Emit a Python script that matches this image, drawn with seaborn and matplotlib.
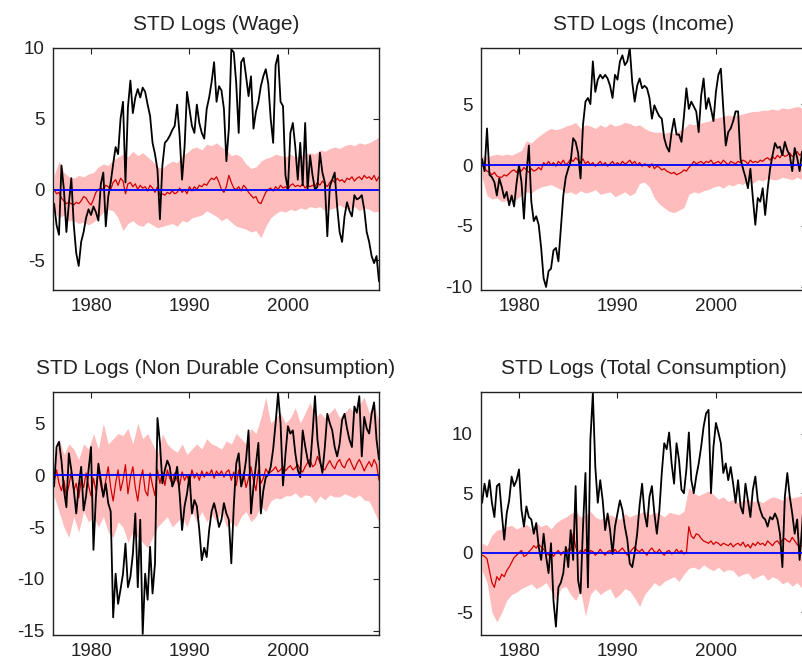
import numpy as np
import matplotlib
matplotlib.use("Agg")
import matplotlib.pyplot as plt
import seaborn as sns

# quarterly dates 1976Q2 .. 2009Q2, band read every half year
quarters = 1976.25 + 0.25 * np.arange(133)
halves = 1976.25 + 0.5 * np.arange(67)

# --- STD Logs (Wage) ---
wage_data = [
    -1.0, -2.5, -3.2, 1.7,  0.0, -3.0, -1.0, 0.8,  -2.5, -4.5, -5.4, -3.7,
    -3.0, -2.0, -1.4, -1.8,  -1.2, -1.6, -2.2, 0.4,  1.2, -2.6, -0.5, 0.5,
    1.8, 3.0, 2.5, 5.0,  6.2, 0.5, 5.8, 7.7,  5.4, 6.5, 7.1, 6.5,
    7.2, 6.9, 6.0, 5.2,  3.3, 2.5, 1.4, -2.1,  1.7, 3.3, 3.5, 3.8,
    4.2, 4.5, 6.0, 3.8,  0.7, 3.0, 6.9, 5.7,  4.5, 4.0, 6.0, 4.7,
    4.0, 3.6, 5.7, 6.5,  7.6, 9.0, 6.2, 7.3,  7.0, 5.7, 2.0, 4.3,
    9.9, 9.7, 7.5, 4.0,  9.0, 9.3, 8.0, 6.6,  8.0, 4.3, 5.5, 6.2,
    7.3, 8.0, 8.5, 7.5,  5.0, 3.3, 8.8, 9.5,  6.2, 5.9, 1.0, 0.0,
    4.0, 4.7, 3.0, 0.7,  3.3, 0.3, 4.7, 0.0,  2.4, 1.0, 0.0, 0.2,
    2.6, 1.2, 0.5, -3.3,  0.2, 0.7, 1.2, -1.2,  -3.0, -3.7, -1.9, -0.9,
    -1.5, -1.9, -0.4, -0.7,  -0.6, -0.4, -1.4, -3.0,  -3.7, -4.7, -5.2, -4.7,
    -6.5]
wage_median = [
    0.0, -0.3, -0.2, -0.6,  -0.8, -1.0, -0.9, -1.0,  -1.1, -0.9, -1.0, -0.8,
    -0.5, -0.6, -0.9, -1.1,  -0.7, -0.2, 0.0, 0.1,  0.0, 0.3, 0.2, 0.0,
    0.5, 0.7, 0.3, 0.8,  0.6, -0.3, 0.4, 0.5,  0.2, 0.4, 0.0, 0.3,
    0.1, 0.2, -0.1, 0.3,  0.1, -0.2, 0.2, -0.4,  -0.3, -0.4, -0.2, -0.3,
    -0.1, -0.3, -0.2, 0.1,  -0.2, 0.0, -0.3, 0.2,  -0.1, 0.2, 0.0, 0.3,
    0.2, 0.4, 0.3, 0.6,  0.8, 0.7, 0.9, 0.5,  0.0, -0.2, 0.2, 1.0,
    0.5, 0.1, 0.0, 0.2,  -0.1, 0.3, 0.1, -0.2,  -0.4, -0.6, -0.5, -0.9,
    -1.0, -0.6, -0.2, 0.0,  0.1, -0.1, 0.2, 0.0,  0.3, 0.1, 0.2, 0.0,
    0.3, 0.4, 0.2, 0.3,  0.2, 0.4, 0.1, 0.3,  0.2, 0.3, 0.2, 0.5,
    0.3, 0.6, 0.4, 0.2,  0.5, 0.7, 0.5, 0.8,  0.6, 0.7, 0.5, 0.8,
    0.7, 0.9, 0.6, 0.8,  0.9, 0.7, 1.0, 0.8,  0.9, 0.7, 1.0, 0.6,
    0.9]
wage_upper = [
    1.0, 2.0, 1.2, 0.9, 0.8, 1.0, 0.9, 1.1, 1.2, 1.6, 1.8, 1.7, 2.1, 2.3,
    2.5, 2.3, 2.7, 2.4, 2.6, 2.3, 2.0, 1.6, 1.5, 1.8, 2.0, 1.9, 2.4, 2.6,
    2.9, 3.0, 2.8, 3.2, 3.1, 3.3, 3.0, 2.8, 2.4, 2.5, 2.3, 1.8, 1.5, 1.6,
    2.0, 2.2, 2.3, 2.5, 2.4, 2.3, 2.5, 2.3, 2.4, 2.5, 2.6, 2.5, 2.8, 2.7,
    2.9, 3.0, 2.9, 3.1, 3.2, 3.1, 3.3, 3.2, 3.3, 3.5, 3.7]
wage_lower = [
    -1.5, -2.0, -1.8, -2.2, -2.2, -2.4, -2.3, -2.5, -2.3, -2.0, -1.6, -1.4,
    -1.5, -2.0, -2.9, -2.4, -2.2, -2.5, -2.6, -2.3, -2.5, -2.7, -2.6, -2.5,
    -2.4, -2.6, -2.2, -2.3, -2.0, -1.9, -1.8, -1.5, -1.7, -1.9, -2.2, -2.0,
    -2.3, -2.6, -2.7, -2.8, -3.0, -2.9, -3.4, -2.6, -2.0, -1.7, -1.5, -1.6,
    -1.4, -1.5, -1.3, -1.4, -1.2, -1.3, -1.2, -1.5, -1.4, -1.3, -1.1, -1.3,
    -1.4, -1.2, -1.5, -1.3, -1.4, -1.6, -1.5]

# --- STD Logs (Income) ---
income_data = [
    0.5, -0.5, 3.0, -0.8,  -1.0, -1.4, -2.5, -1.1,  -1.8, -2.7, -2.2, -3.3,
    -2.5, -3.4, -1.5, 0.0,  -1.4, -4.4, -0.8, 1.6,  -3.0, -4.6, -4.2, -4.9,
    -6.8, -9.3, -10.0, -8.7,  -8.5, -7.0, -6.8, -7.9,  -5.2, -2.5, -1.0, -0.3,
    0.3, 2.2, 1.9, 1.0,  -1.1, 3.3, 5.2, 5.5,  5.0, 8.5, 6.0, 7.0,
    7.4, 7.1, 7.4, 7.1,  6.5, 5.5, 7.4, 7.0,  8.5, 9.0, 8.2, 8.5,
    9.6, 6.8, 5.2, 6.5,  7.1, 6.3, 6.5, 6.3,  5.5, 3.8, 4.9, 4.4,
    4.0, 3.8, 2.2, 1.5,  1.1, 2.7, 3.8, 2.5,  2.5, 1.9, 4.0, 6.3,
    4.6, 5.2, 4.8, 4.4,  2.7, 5.7, 7.1, 4.6,  5.5, 4.6, 3.6, 6.0,
    7.4, 7.9, 4.6, 1.6,  2.7, 3.0, 3.6, 4.4,  4.4, 0.5, -0.3, -1.0,
    -1.9, -0.3, -2.7, -4.9,  -2.7, -3.0, -1.9, -4.1,  -2.0, -0.3, 0.8, 1.8,
    1.4, 1.5, 0.8, 1.9,  1.2, 0.8, -0.5, 1.4,  0.6, -0.5, 1.1, 0.5,
    0.8]
income_median = [
    0.0, -0.3, -0.5, -0.6,  -0.8, -0.6, -0.9, -1.0,  -1.0, -0.8, -0.9, -0.7,
    -0.5, -0.4, -0.6, -0.3,  -0.5, -0.2, -0.4, -0.6,  -0.3, -0.5, -0.4, -0.2,
    -0.4, 0.2, 0.0, 0.3,  0.0, 0.2, -0.1, 0.3,  0.1, 0.4, 0.0, 0.2,
    0.5, 0.3, 0.6, 0.4,  0.2, 0.5, 0.1, 0.3,  0.0, 0.2, -0.1, 0.1,
    0.3, 0.0, 0.2, -0.1,  0.1, 0.3, 0.0, 0.2,  0.0, 0.3, 0.1, 0.2,
    0.4, 0.1, 0.3, 0.0,  0.2, -0.1, 0.1, 0.0,  -0.2, 0.1, -0.3, -0.1,
    -0.2, -0.4, -0.3, -0.5,  -0.6, -0.7, -0.6, -0.8,  -0.7, -0.6, -0.4, -0.5,
    -0.2, 0.0, 0.3, 0.1,  0.2, 0.3, 0.1, 0.3,  0.2, 0.4, 0.1, 0.2,
    0.3, 0.1, 0.4, 0.2,  0.0, 0.3, 0.2, 0.1,  0.3, 0.2, 0.4, 0.3,
    0.1, 0.4, 0.2, 0.3,  0.2, 0.4, 0.3, 0.5,  0.6, 0.4, 0.7, 0.5,
    0.8, 0.6, 0.9, 0.7,  0.8, 1.0, 0.7, 0.9,  1.1, 0.8, 1.0, 0.9,
    1.0]
income_upper = [
    0.8, 0.6, 0.8, 0.9, 0.8, 0.9, 0.8, 1.0, 1.2, 2.0, 1.8, 2.2, 2.5, 2.8,
    3.0, 2.9, 3.0, 3.2, 3.3, 3.5, 3.0, 3.3, 3.2, 3.0, 3.3, 3.1, 3.4, 3.2,
    3.3, 3.5, 3.4, 3.2, 3.3, 3.0, 2.8, 2.7, 2.7, 2.6, 2.7, 2.6, 2.8, 3.0,
    3.4, 3.3, 3.4, 3.5, 3.6, 3.8, 3.9, 4.0, 4.1, 4.0, 4.1, 4.2, 4.3, 4.4,
    4.4, 4.5, 4.5, 4.6, 4.5, 4.7, 4.6, 4.7, 4.8, 4.7, 4.8]
income_lower = [
    -1.0, -2.5, -2.8, -2.7, -3.0, -2.9, -3.0, -2.8, -2.5, -2.2, -2.3, -2.0,
    -1.8, -1.7, -1.6, -1.8, -2.0, -2.3, -2.2, -2.4, -2.1, -2.3, -2.2, -2.0,
    -2.4, -2.3, -2.2, -2.6, -2.4, -2.2, -2.5, -2.3, -1.5, -1.4, -1.8, -2.7,
    -3.2, -3.5, -3.8, -3.9, -3.7, -3.5, -2.4, -2.2, -2.3, -2.1, -2.0, -1.8,
    -1.7, -1.9, -1.6, -1.7, -1.5, -1.6, -1.3, -1.5, -1.2, -1.3, -1.1, -1.2,
    -1.2, -1.0, -1.1, -1.2, -1.0, -1.2, -1.1]

# --- STD Logs (Non Durable Consumption) ---
nondur_data = [
    -1.1, 2.7, 3.2, 1.4,  -1.4, -3.1, 2.1, 0.5,  -1.4, -3.7, -1.1, 0.8,
    -3.4, -2.0, 0.5, 2.7,  -7.2, -2.1, 1.1, -0.5,  -2.1, -0.8, -2.7, -3.5,
    -13.7, -9.5, -12.4, -11.0,  -9.5, -6.6, -10.8, -9.8,  -7.6, -3.7, -10.8, -4.3,
    -15.3, -9.5, -12.0, -6.9,  -11.4, -8.5, 5.5, 3.1,  -0.8, 0.5, 1.4, 0.8,
    -1.1, -0.5, 0.8, -1.8,  -5.3, -3.0, -1.8, 0.0,  -3.7, -2.4, -3.0, -5.3,
    -8.2, -7.0, -7.9, -5.3,  -3.5, -2.7, -3.7, -5.0,  -4.3, -2.7, -3.7, -4.3,
    -8.5, -3.0, 1.1, 2.1,  -1.1, -0.2, 1.5, 4.3,  -3.7, -1.1, 1.0, 3.1,
    -3.7, -1.5, -0.2, 0.0,  0.8, 2.5, 5.0, 7.9,  5.0, -1.0, 2.0, 4.7,
    4.0, 4.3, 2.1, 0.5,  -0.2, 4.3, 2.8, 1.5,  0.8, 4.0, 7.6, 3.4,
    1.5, 0.2, 2.7, 5.9,  5.0, 4.3, 2.7, 1.8,  3.0, 5.3, 5.9, 4.5,
    3.4, 2.7, 6.6, 6.0,  7.6, 1.8, 5.6, 4.5,  4.0, 5.9, 7.0, 3.4,
    1.5]
nondur_median = [
    -0.5, 0.5, -0.8, -1.5,  -0.5, -2.0, -1.0, 0.3,  -1.5, -0.8, -2.2, -0.5,
    -1.2, 0.2, -1.0, -2.0,  -0.3, -1.5, 0.5, -1.0,  -2.0, -0.5, 0.8, -1.2,
    -2.5, -0.8, 0.5, -1.5,  -0.5, 1.0, -1.8, -0.2,  0.8, -1.2, -2.5, -0.5,
    0.5, -1.5, -2.0, 0.2,  -1.0, -2.0, 0.5, -0.8,  0.3, -1.0, 0.5, -0.3,
    -0.8, 0.2, -0.5, -1.0,  0.3, -0.5, 0.0, -0.8,  0.5, -0.3, 0.2, -0.5,
    0.4, -0.2, 0.3, 0.0,  0.5, -0.3, 0.4, 0.0,  0.4, -0.2, 0.3, 0.5,
    -0.5, 0.3, -1.0, 0.5,  -0.8, 0.2, -1.2, -0.3,  0.8, -0.5, -1.5, 0.5,
    -0.8, -0.3, 0.6, 0.2,  0.3, 0.5, 0.8, 0.3,  0.5, 0.8, 0.4, 0.7,
    0.9, 0.5, 0.7, 1.0,  0.5, 0.3, 0.8, 1.2,  1.5, 0.8, 1.0, 1.8,
    1.2, 0.6, 0.5, 1.0,  1.4, 0.9, 0.6, 1.2,  1.5, 0.9, 0.7, 1.3,
    1.6, 1.0, 0.5, 1.1,  1.5, 1.0, 0.4, 0.9,  1.3, 0.8, 1.5, 1.0,
    -0.5]
nondur_upper = [
    1.0, 3.5, 2.0, 3.0, 2.5, 1.5, 3.0, 2.5, 4.0, 2.5, 5.0, 3.0, 3.5, 4.0,
    3.8, 4.5, 3.0, 5.0, 3.5, 4.0, 3.0, 2.0, 4.0, 3.0, 2.5, 2.2, 3.0, 2.0,
    2.5, 3.0, 2.5, 3.5, 3.0, 2.8, 2.5, 3.3, 3.0, 4.0, 3.5, 3.0, 4.5, 4.0,
    5.5, 7.5, 5.0, 5.5, 6.0, 5.0, 5.5, 6.5, 5.0, 6.0, 7.0, 5.5, 6.0, 5.5,
    6.0, 6.5, 5.5, 6.0, 6.5, 6.0, 6.8, 7.5, 6.0, 7.0, 5.0]
nondur_lower = [
    -2.0, -3.5, -5.0, -6.0, -4.0, -5.5, -3.5, -4.5, -4.0, -5.0, -4.0, -5.5,
    -6.0, -4.5, -5.0, -6.5, -5.5, -6.0, -6.5, -7.0, -6.0, -5.0, -4.5, -4.0,
    -5.0, -4.5, -4.0, -5.0, -3.5, -4.5, -3.5, -4.5, -3.8, -4.5, -3.5, -5.0,
    -4.5, -5.0, -4.0, -3.5, -4.5, -4.0, -3.0, -3.5, -2.5, -2.2, -2.3, -2.0,
    -2.0, -1.7, -2.2, -1.9, -2.0, -2.7, -2.0, -2.4, -1.9, -2.1, -2.1, -1.8,
    -2.0, -2.2, -1.9, -2.4, -2.5, -3.5, -4.5]

# --- STD Logs (Total Consumption) ---
total_data = [
    4.2, 5.8, 4.7, 6.1,  4.2, 3.0, 5.6, 5.8,  3.3, 1.1, 3.3, 4.4,
    6.4, 5.6, 6.1, 7.0,  3.6, 2.2, 3.9, 3.0,  2.8, 1.6, 2.5, 0.5,
    -0.6, 1.6, -0.3, -1.7,  0.8, -4.0, -6.2, -2.9,  -2.5, -1.7, 0.5, -1.2,
    1.9, -0.6, 5.6, -2.3,  -3.4, 2.2, 6.7, -2.9,  9.5, 13.4, 7.2, 4.2,
    6.1, 4.4, 1.9, 3.3,  1.9, -0.1, 2.2, 3.3,  4.4, 3.6, 2.2, 1.1,
    -0.9, -1.2, 0.0, 1.6,  4.0, 5.8, 3.3, 2.2,  4.7, 5.6, 3.3, 1.6,
    3.5, 6.7, 9.2, 8.7,  10.1, 7.5, 5.8, 9.2,  7.8, 5.3, 5.0, 7.0,
    10.1, 6.1, 5.0, 6.4,  7.5, 8.9, 10.6, 11.7,  12.0, 5.0, 8.9, 10.9,
    10.1, 9.2, 6.7, 7.5,  6.1, 7.2, 5.8, 4.2,  6.1, 3.9, 3.3, 5.8,
    4.4, 3.0, 5.3, 6.4,  4.4, 3.6, 3.0, 2.8,  2.2, 3.0, 2.8, 3.3,
    2.8, 1.6, -1.2, 4.7,  6.7, 4.7, 3.3, 1.6,  2.8, -0.6, 2.2, 5.6,
    4.0]
total_median = [
    -0.2, -0.3, -0.5, -1.5,  -2.5, -2.9, -2.0, -2.3,  -1.8, -2.0, -1.5, -1.2,
    -0.8, -0.4, -0.2, 0.0,  0.2, -0.3, -0.2, 0.1,  0.3, 0.6, 0.4, 0.7,
    0.5, 0.3, 0.0, -0.2,  0.1, -0.3, 0.0, 0.2,  -0.2, 0.1, -0.1, 0.3,
    0.2, 1.6, 0.5, -0.1,  0.2, 0.0, 0.3, -0.3,  0.2, 0.1, -0.2, 0.0,
    0.3, 0.0, -0.2, 0.1,  0.2, -0.1, 0.3, 0.0,  0.2, 0.4, 0.1, -0.2,
    0.0, 0.3, 0.5, 0.2,  0.1, 0.3, 0.0, -0.2,  0.2, 0.4, 0.1, 0.0,
    0.3, 0.0, -0.2, 0.1,  0.2, -0.1, 0.0, 0.3,  0.0, 0.2, -0.1, 0.0,
    2.2, 1.4, 1.2, 1.6,  1.5, 1.2, 1.0, 0.9,  0.8, 1.0, 0.7, 0.9,
    0.8, 0.6, 0.8, 0.7,  0.6, 0.8, 0.5, 0.7,  0.8, 0.6, 0.9, 0.5,
    0.7, 0.4, 0.8, 0.6,  0.9, 0.7, 0.8, 0.6,  1.0, 0.8, 0.6, 0.9,
    1.0, 0.7, 1.1, 1.2,  1.0, 0.9, 1.3, 1.0,  0.7, 0.5, 0.6, 0.4,
    0.6]
total_upper = [
    0.8, 0.6, 1.5, 1.9, 2.0, 2.2, 2.3, 2.0, 2.2, 2.4, 2.0, 2.5, 2.2, 2.4,
    2.0, 2.5, 2.8, 3.0, 3.3, 3.5, 3.0, 3.2, 3.5, 3.0, 2.8, 3.0, 3.2, 3.0,
    2.8, 3.3, 3.0, 3.2, 3.3, 3.5, 3.2, 3.4, 3.3, 3.0, 3.4, 3.3, 3.2, 3.5,
    5.5, 5.0, 4.8, 5.0, 5.2, 4.9, 4.5, 4.7, 4.3, 4.5, 4.2, 4.4, 4.5, 4.3,
    4.4, 4.2, 4.5, 4.7, 4.6, 4.4, 4.8, 4.6, 4.7, 4.8, 4.7]
total_lower = [
    -1.5, -2.5, -5.0, -5.8, -5.0, -4.0, -3.5, -3.3, -3.0, -2.8, -2.6, -3.0,
    -2.8, -2.5, -3.2, -4.0, -3.0, -2.8, -3.5, -4.0, -3.2, -5.3, -3.5, -3.0,
    -3.5, -3.2, -3.0, -3.8, -3.5, -3.0, -3.2, -3.8, -4.5, -3.5, -3.0, -2.5,
    -2.8, -2.4, -2.2, -2.0, -2.4, -1.8, -1.3, -1.2, -1.4, -1.0, -1.3, -1.5,
    -1.2, -1.6, -1.4, -1.5, -2.0, -1.8, -1.7, -2.2, -2.0, -1.8, -2.3, -2.0,
    -2.2, -2.6, -2.4, -2.8, -2.5, -3.0, -2.6]

sns.set_style("white")
plt.rcParams["font.family"] = ["Liberation Sans", "DejaVu Sans"]
plt.rcParams["axes.unicode_minus"] = False

fig = plt.figure(figsize=(8.03, 6.69), dpi=100)


def draw_panel(rect, title, data, median, upper, lower, ylim, yticks):
    ax = fig.add_axes(rect)
    # confidence band
    ax.fill_between(halves, lower, upper, color="#ffbcbc", linewidth=0)
    sns.lineplot(x=quarters, y=median, ax=ax, color="#d00000",
                 linewidth=0.9, estimator=None)
    sns.lineplot(x=quarters, y=data, ax=ax, color="black",
                 linewidth=1.3, estimator=None)
    ax.axhline(0, color="#0000ff", linewidth=1.3)
    ax.set_xlim(1976.14, 2009.25)
    ax.set_ylim(*ylim)
    ax.set_xticks([1980, 1990, 2000])
    ax.set_yticks(yticks)
    ax.tick_params(direction="in", top=True, right=True, length=4,
                   width=0.8, labelsize=13.5, pad=6, color="#222222",
                   labelcolor="#222222")
    for sp in ax.spines.values():
        sp.set_linewidth(1.0)
        sp.set_color("#222222")
    ax.set_title(title, fontsize=15, pad=13, color="#222222")
    return ax


W = 326 / 803
H_top = 242 / 669
H_bot = 243 / 669
draw_panel([53 / 803, 1 - 290 / 669, W, H_top], "STD Logs (Wage)",
           wage_data, wage_median, wage_upper, wage_lower,
           (-7.1, 10.0), [-5, 0, 5, 10])
draw_panel([481 / 803, 1 - 290 / 669, W, H_top], "STD Logs (Income)",
           income_data, income_median, income_upper, income_lower,
           (-10.25, 9.6), [-10, -5, 0, 5])
draw_panel([53 / 803, 1 - 635 / 669, W, H_bot],
           "STD Logs (Non Durable Consumption)",
           nondur_data, nondur_median, nondur_upper, nondur_lower,
           (-15.4, 8.0), [-15, -10, -5, 0, 5])
draw_panel([481 / 803, 1 - 635 / 669, W, H_bot],
           "STD Logs (Total Consumption)",
           total_data, total_median, total_upper, total_lower,
           (-6.9, 13.5), [-5, 0, 5, 10])

fig.savefig("out.png", dpi=100)
plt.close(fig)
